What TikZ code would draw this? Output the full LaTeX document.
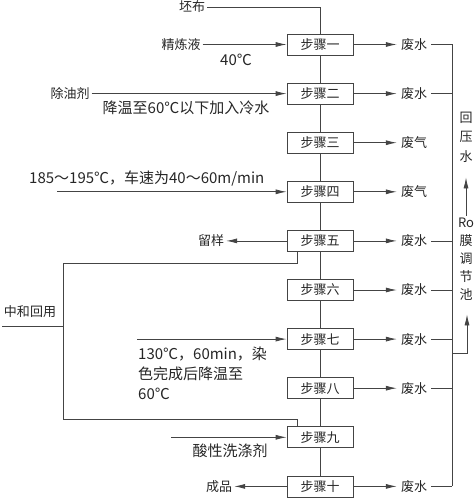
\documentclass[tikz,border=0pt]{standalone}
\usepackage{fontspec}
\setmainfont{Noto Sans CJK SC}
\usetikzlibrary{arrows.meta}
\definecolor{ln}{HTML}{444444}
\definecolor{tx}{HTML}{262626}
\begin{document}
\begin{tikzpicture}[x=1pt,y=-1pt,
  every node/.style={text=tx,inner sep=2pt},
  stepbox/.style={draw=ln,line width=0.8pt,minimum width=66pt,minimum height=21pt,inner sep=0pt,font=\fontsize{13}{14}\selectfont},
  lab/.style={font=\fontsize{13}{14}\selectfont},
  note/.style={font=\fontsize{15}{20}\selectfont},
  wl/.style={font=\fontsize{13}{14}\selectfont,inner sep=4pt},
  conn/.style={draw=ln,line width=0.8pt},
  arr/.style={conn,-{Latex[length=11pt,width=5pt]}}]
\useasboundingbox (0,0) rectangle (474,500);
% step boxes
\foreach \i/\t in {1/一,2/二,3/三,4/四,5/五,6/六,7/七,8/八,9/九,10/十}{
  \pgfmathsetmacro{\yy}{44.5+49.1*(\i-1)}
  \node[stepbox] (s\i) at (320,\yy) {步骤\t};
}
% main chain
\coordinate (top) at (320,7);
\node[lab] (pb) at (192,7) {坯布};
\draw[conn] (pb.east) -- (top) -- (s1.north);
\foreach \a/\b in {1/2,2/3,3/4,4/5,5/6,6/7,7/8,8/9,9/10}{
  \draw[conn] (s\a.south) -- (s\b.north);
}
% right outputs
\foreach \i/\t in {1/废水,2/废水,3/废气,4/废气,5/废水,6/废水,7/废水,8/废水,10/废水}{
  \node[wl] (w\i) at (414,0 |- s\i) {\t};
  \draw[arr] (s\i.east) -- (w\i.west);
}
\foreach \i in {1,2,5,6,7,8,10}{
  \coordinate (c\i) at (452,0 |- s\i);
  \draw[conn] (w\i.east) -- (c\i);
}
\draw[conn] (c1) -- (c10);
% recycle side
\node[lab,align=center,font=\fontsize{13}{19.5}\selectfont] (hys) at (466,137) {回\\压\\水};
\node[lab,align=center,font=\fontsize{13}{18}\selectfont] (rom) at (466,259) {Ro\\膜\\调\\节\\池};
\draw[arr] (rom.north) -- ([yshift=-13pt]hys.south);
\coordinate (cr) at (452,353);
\coordinate (cr2) at (467,353);
\draw[arr] (cr) -- (cr2) -- ([yshift=-12pt]rom.south -| cr2);
% inputs
\node[lab] (jl) at (181,44.5) {精炼液};
\draw[arr] (jl.east) -- (s1.west);
\node[note] (t40) at (236,60) {40℃};
\node[lab] (cyj) at (70,93.6) {除油剂};
\draw[arr] (cyj.east) -- (s2.west);
\node[note] (tj) at (186,108) {降温至60℃以下加入冷水};
\coordinate (i4) at (57,0 |- s4);
\draw[arr] (i4) -- (s4.west);
\node[note,anchor=south west] (t4) at (27,188) {185～195℃，车速为40～60m/min};
\node[lab] (ly) at (211,0 |- s5) {留样};
\draw[arr] (s5.west) -- (ly.east);
% neutralisation loop
\coordinate (l1) at (297,263);
\coordinate (l2) at (63,263);
\coordinate (l3) at (63,419);
\coordinate (l4) at (297,419);
\draw[conn] (s5.south -| l1) -- (l1) -- (l2) -- (l3) -- (l4) -- (s9.north -| l4);
\node[lab] (zh) at (30,312) {中和回用};
\coordinate (zl) at (2,326);
\draw[conn] (zl) -- (zl -| l2);
% step 7 input
\coordinate (i7) at (137,0 |- s7);
\draw[arr] (i7) -- (s7.west);
\node[note,anchor=north west,align=left] (t7) at (136,345) {130℃，60min，染\\色完成后降温至\\60℃};
% step 9 input
\coordinate (i9) at (171,0 |- s9);
\draw[arr] (i9) -- (s9.west);
\node[note] (t9) at (230,451) {酸性洗涤剂};
% product
\node[lab] (cp) at (219,0 |- s10) {成品};
\draw[arr] (s10.west) -- (cp.east);
\end{tikzpicture}
\end{document}
